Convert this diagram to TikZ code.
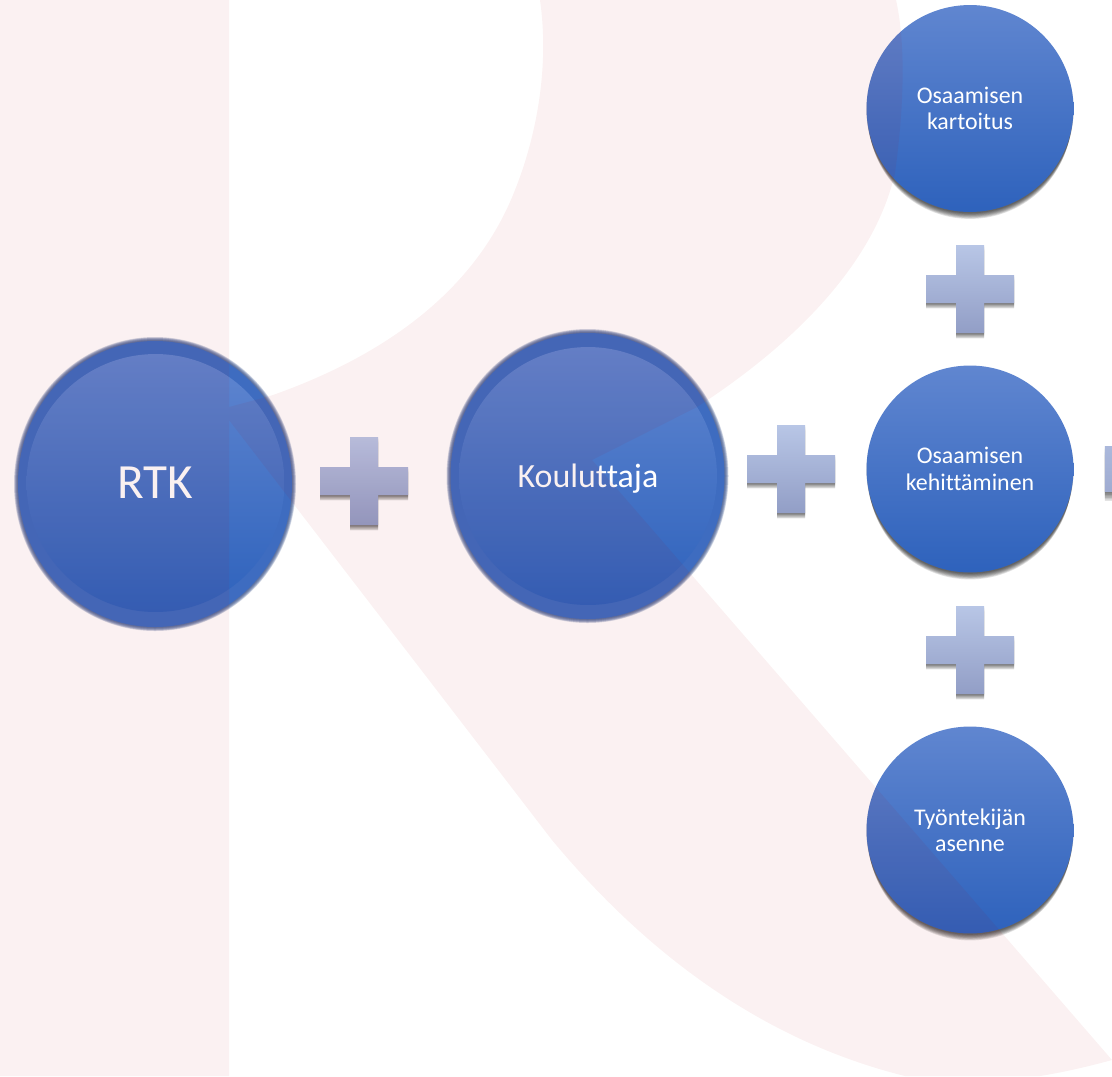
\documentclass[tikz,border=0pt]{standalone}
\usepackage{fontspec}
\setmainfont[RawFeature={-liga}]{Carlito}
\definecolor{circletop}{RGB}{96,134,208}
\definecolor{circlebottom}{RGB}{46,98,188}
\definecolor{ringblue}{RGB}{62,108,192}
\definecolor{edgegrey}{RGB}{60,85,140}
\definecolor{plustop}{RGB}{184,198,230}
\definecolor{plusbottom}{RGB}{146,158,198}
\definecolor{markred}{RGB}{175,0,10}
\newcommand{\pluspath}{(-44,-14) -- (-14,-14) -- (-14,-44) -- (14,-44) -- (14,-14) -- (44,-14) -- (44,14) -- (14,14) -- (14,44) -- (-14,44) -- (-14,14) -- (-44,14) -- cycle}
\tikzset{
	smallcircle/.style={circle, minimum size=4.14cm, inner sep=0pt, top color=circletop, bottom color=circlebottom, text=white, align=center, font=\fontsize{13.6}{15}\selectfont},
	bigcircle/.style={circle, minimum size=5.16cm, inner sep=0pt, top color=circletop, bottom color=circlebottom, text=white, align=center},
	softcircle/.style={black, opacity=0.11},
	plussign/.pic={
		\foreach \d in {1,2,...,6}
			\fill [black, opacity=0.11] [shift={(0,\d*0.9)}] \pluspath;
		\shade [top color=plustop, bottom color=plusbottom] \pluspath;
	}
}
\begin{document}
\begin{tikzpicture}[x=0.02cm, y=-0.02cm]
	\useasboundingbox (0,0) rectangle (1112,1076);
	\clip (0,0) rectangle (1112,1076);

	% soft edges of the two large circles
	\foreach \d in {0,1,...,7} {
		\fill [edgegrey, opacity=0.2] (155,484) ellipse [x radius=141-\d*0.5, y radius=147-\d*0.5];
		\fill [edgegrey, opacity=0.2] (587.5,476) ellipse [x radius=141-\d*0.5, y radius=147-\d*0.5];
	}
	\fill [ringblue] (155,484) ellipse [x radius=137, y radius=143];
	\fill [ringblue] (587.5,476) ellipse [x radius=137, y radius=143];

	% shadows of the small circles
	\foreach \d in {1,2,...,8} {
		\fill [softcircle] (970,108.5+\d*1.1) circle [radius=104-\d*0.3];
		\fill [softcircle] (970,469+\d*1.1) circle [radius=104-\d*0.3];
		\fill [softcircle] (970,830+\d*1.1) circle [radius=104-\d*0.3];
	}

	\node (rtk) [bigcircle, font=\fontsize{28}{30}\selectfont] at (155.5,483) {RTK};
	\node (kouluttaja) [bigcircle, font=\fontsize{19.3}{22}\selectfont, text depth=0pt] at (588,476) {Kouluttaja};
	\node (kartoitus) [smallcircle] at (970,108.5) {Osaamisen\\kartoitus};
	\node (kehittaminen) [smallcircle] at (970,469) {Osaamisen\\kehittäminen};
	\node (asenne) [smallcircle] at (970,830) {Työntekijän\\asenne};

	\pic at (364,481) {plussign};
	\pic at (791,469) {plussign};
	\pic at (970,289) {plussign};
	\pic at (970,650) {plussign};
	\pic [scale=1.64] at (1177,469) {plussign};

	% watermark letter lying over everything
	\fill [markred, opacity=0.055] (0,0) -- (229,0) -- (229,407)
		.. controls (240,404) and (256,400) .. (273,395)
		.. controls (400,350) and (480,280) .. (515,190)
		.. controls (535,140) and (550,70) .. (540,0)
		-- (896,0)
		.. controls (905,40) and (905,100) .. (895,173)
		.. controls (875,260) and (800,340) .. (697,407)
		-- (592,460) -- (1112,1060)
		.. controls (1090,1066) and (1065,1072) .. (1040,1076)
		-- (905,1076)
		.. controls (780,1045) and (660,970) .. (552,840)
		-- (229,420) -- (229,1076) -- (0,1076) -- cycle;
\end{tikzpicture}
\end{document}
